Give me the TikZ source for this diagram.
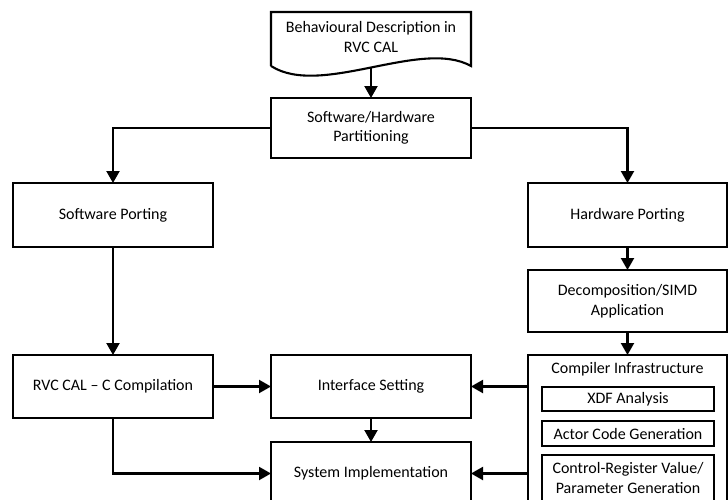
\documentclass[tikz,border=0pt]{standalone}
\usepackage{fontspec}
\setmainfont{Carlito}
\usetikzlibrary{arrows.meta}
\begin{document}
\begin{tikzpicture}[x=1pt,y=-1pt,
  every node/.style={font=\fontsize{16}{19.5}\selectfont, inner sep=0pt, outer sep=0pt},
  box/.style={draw, line width=2.1pt, rectangle, align=center},
  sub/.style={draw, line width=1.9pt, rectangle, align=center, minimum width=172pt},
  arr/.style={draw, line width=2.1pt, -{Triangle[length=12pt,width=13pt]}}]
\clip (0,0) rectangle (728,499);
\fill[white] (0,0) rectangle (728,499);
% document shape
\draw[line width=2.1pt] (271,66) -- (271,12) -- (471,12) -- (471,66)
  .. controls (421,38) and (321,98) .. (271,66);
\node[align=center] (doc) at (371,37) {Behavioural Description in\\RVC CAL};
\coordinate (docb) at (371,68);
% boxes
\node[box, minimum width=200pt, minimum height=60pt] (sh) at (371,128) {Software/Hardware\\Partitioning};
\node[box, minimum width=200pt, minimum height=64pt] (sp) at (113,215) {Software Porting};
\node[box, minimum width=199pt, minimum height=64pt] (hp) at (627.5,215) {Hardware Porting};
\node[box, minimum width=199pt, minimum height=62pt] (dec) at (627.5,301) {Decomposition/SIMD\\Application};
\node[box, minimum width=200pt, minimum height=63pt] (rvc) at (113,386.5) {RVC CAL -- C Compilation};
\node[box, minimum width=200pt, minimum height=63pt] (is) at (371,386.5) {Interface Setting};
\node[box, minimum width=200pt, minimum height=63pt] (si) at (371,473.5) {System Implementation};
\node[box, minimum width=199pt, minimum height=155pt] (ci) at (627.5,432.5) {};
\node (cit) at (627.5,369) {Compiler Infrastructure};
\node[sub, minimum height=24pt] (xdf) at (628,399) {XDF Analysis};
\node[sub, minimum height=25pt] (acg) at (628,433.5) {Actor Code Generation};
\node[sub, minimum height=46pt] (crv) at (628,478) {Control-Register Value/\\Parameter Generation};
% connectors
\path[arr] (docb) -- (sh.north);
\path[arr] (sh.west) -| (sp.north);
\path[arr] (sh.east) -| (hp.north);
\path[arr] (sp.south) -- (rvc.north);
\path[arr] (hp.south) -- (dec.north);
\path[arr] (dec.south) -- (ci.north);
\path[arr] (rvc.east) -- (is.west);
\path[arr] (rvc.south) |- (si.west);
\path[arr] (is.south) -- (si.north);
\path[arr] (ci.west |- is.east) -- (is.east);
\path[arr] (ci.west |- si.east) -- (si.east);
\end{tikzpicture}
\end{document}
